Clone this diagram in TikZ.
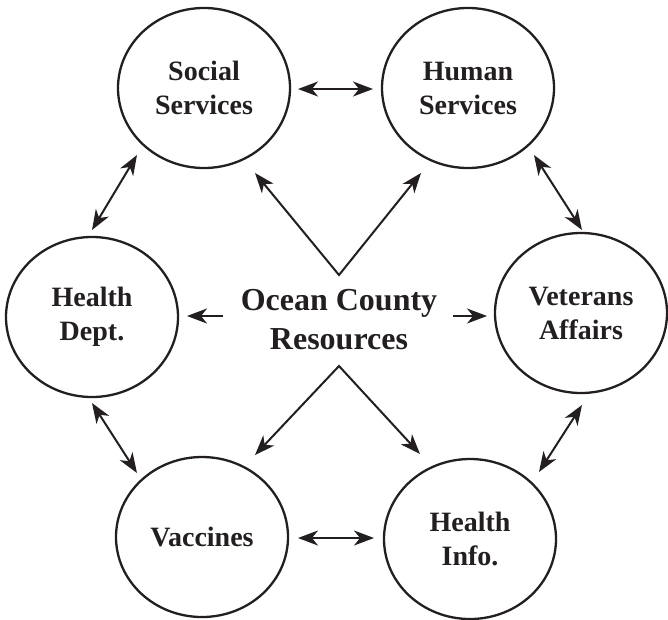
\documentclass[tikz,border=0pt]{standalone}
\usepackage{fontspec}
\setmainfont{Liberation Serif}
\usetikzlibrary{shapes.geometric,arrows.meta}
\definecolor{ink}{HTML}{231F20}
\tikzset{
  res/.style={ellipse,draw=ink,line width=2.3pt,minimum width=172pt,minimum height=160pt,inner sep=0pt,align=center,text=ink,font=\fontsize{28}{34}\selectfont\bfseries},
  tip/.tip={Stealth[length=20pt,width=15pt,inset=6pt]},
  link/.style={draw=ink,line width=2pt,tip-tip},
  one/.style={draw=ink,line width=2pt,-tip}
}
\begin{document}
\begin{tikzpicture}[x=1pt,y=-1pt]
\useasboundingbox (0,0) rectangle (668,619);
\node[res] (ss) at (204,88) {Social\\Services};
\node[res] (hs) at (468,88) {Human\\Services};
\node[res] (hd) at (92,317) {Health\\Dept.};
\node[res] (va) at (581,313) {Veterans\\Affairs};
\node[res] (vc) at (202,537) {Vaccines};
\node[res] (hi) at (470,539) {Health\\Info.};
\node[text=ink,align=center,font=\fontsize{32}{39}\selectfont\bfseries] (oc) at (339,320) {Ocean County\\Resources};
% endpoints
\coordinate (p1) at (298,89); \coordinate (p2) at (373,89);
\coordinate (p3) at (137,155); \coordinate (p4) at (92,230);
\coordinate (p5) at (534,155); \coordinate (p6) at (582,230);
\coordinate (p7) at (92,403); \coordinate (p8) at (137,473);
\coordinate (p9) at (582,405); \coordinate (p10) at (539,472);
\coordinate (p11) at (298,538); \coordinate (p12) at (374,538);
\coordinate (top) at (339,275); \coordinate (bot) at (339,366);
\coordinate (t1) at (255,173); \coordinate (t2) at (421,173);
\coordinate (b1) at (255,455); \coordinate (b2) at (420,454);
\coordinate (l0) at (223,316); \coordinate (l1) at (187,316);
\coordinate (r0) at (453,316); \coordinate (r1) at (487,316);
\draw[link] (p1) -- (p2);
\draw[link] (p3) -- (p4);
\draw[link] (p5) -- (p6);
\draw[link] (p7) -- (p8);
\draw[link] (p9) -- (p10);
\draw[link] (p11) -- (p12);
\draw[link] (t1) -- (top) -- (t2);
\draw[link] (b1) -- (bot) -- (b2);
\draw[one] (l0) -- (l1);
\draw[one] (r0) -- (r1);
\end{tikzpicture}
\end{document}
